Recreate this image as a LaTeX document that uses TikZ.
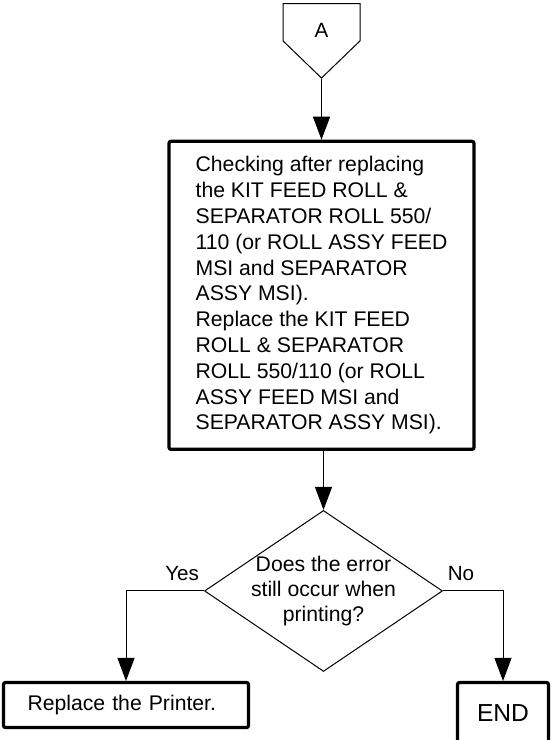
\documentclass[tikz,border=0pt]{standalone}
\usepackage{fontspec}
\setmainfont{Liberation Sans}
\usetikzlibrary{
  shapes.geometric, shapes.symbols, arrows.meta, positioning
}
\definecolor{flowline}{RGB}{0,0,0}
\definecolor{flowfill}{RGB}{255,255,255}
\tikzset{
  offpage/.style={
    signal, signal to=south, signal pointer angle=92,
    minimum width=38.5pt, minimum height=22pt, inner sep=0pt,
    text height=15.5pt, text depth=0pt,
    draw=flowline, fill=flowfill, line width=0.5pt,
    font=\fontsize{10.3}{12}\selectfont
  },
  process/.style={
    rectangle, rounded corners=1pt, draw=flowline, fill=flowfill,
    line width=1.6pt, align=left, font=\fontsize{10.6}{12.9}\selectfont
  },
  decision/.style={
    diamond, minimum width=119pt, minimum height=80.5pt, aspect=1.48,
    draw=flowline, fill=flowfill, line width=0.5pt, inner sep=-1.5pt,
    align=center, font=\fontsize{10.6}{12.3}\selectfont
  },
  arrow/.style={-{Triangle[length=11.5pt, width=8.5pt]}, line width=0.5pt, color=flowline},
  answer/.style={font=\fontsize{10.3}{12}\selectfont, inner sep=0pt}
}

\begin{document}
\begin{tikzpicture}[node distance=30pt]
  \useasboundingbox (0,0) rectangle (275.5pt,-370pt);

  % Connector
  \node[offpage, anchor=north] (A) at (160.75pt,-1.5pt) {A};

  % Check box
  \node[process, below=30.5pt of A, minimum width=152.5pt, minimum height=154pt] (check)
    {Checking after replacing\\the KIT FEED ROLL \&\\SEPARATOR ROLL 550/\\110 (or ROLL ASSY FEED\\MSI and SEPARATOR\\ASSY MSI).\\Replace the KIT FEED\\ROLL \& SEPARATOR\\ROLL 550/110 (or ROLL\\ASSY FEED MSI and\\SEPARATOR ASSY MSI).};

  % Decision
  \node[decision, below=29.5pt of check, xshift=1pt] (err)
    {Does the error\\still occur when\\printing?};

  % Results
  \node[process, below=4.5pt of err, xshift=-98.75pt, text width=98.5pt,
        inner xsep=12pt, minimum height=22.5pt] (printer)
    {Replace the Printer.};
  \node[process, below=4.5pt of err, xshift=89.75pt, align=center,
        minimum width=45.5pt, minimum height=30.5pt,
        font=\fontsize{12.3}{14}\selectfont] (end)
    {END};

  % Arrows
  \draw[arrow] (A.south) -- (check.north -| A.south);
  \draw[arrow] (check.south -| err.north) -- (err.north);
  \draw[arrow] (err.west) -| node[answer, above=5pt, pos=0.14]{Yes} (printer.north);
  \draw[arrow] (err.east) -| node[answer, above=5pt, pos=0.15]{No} (end.north);
\end{tikzpicture}
\end{document}
